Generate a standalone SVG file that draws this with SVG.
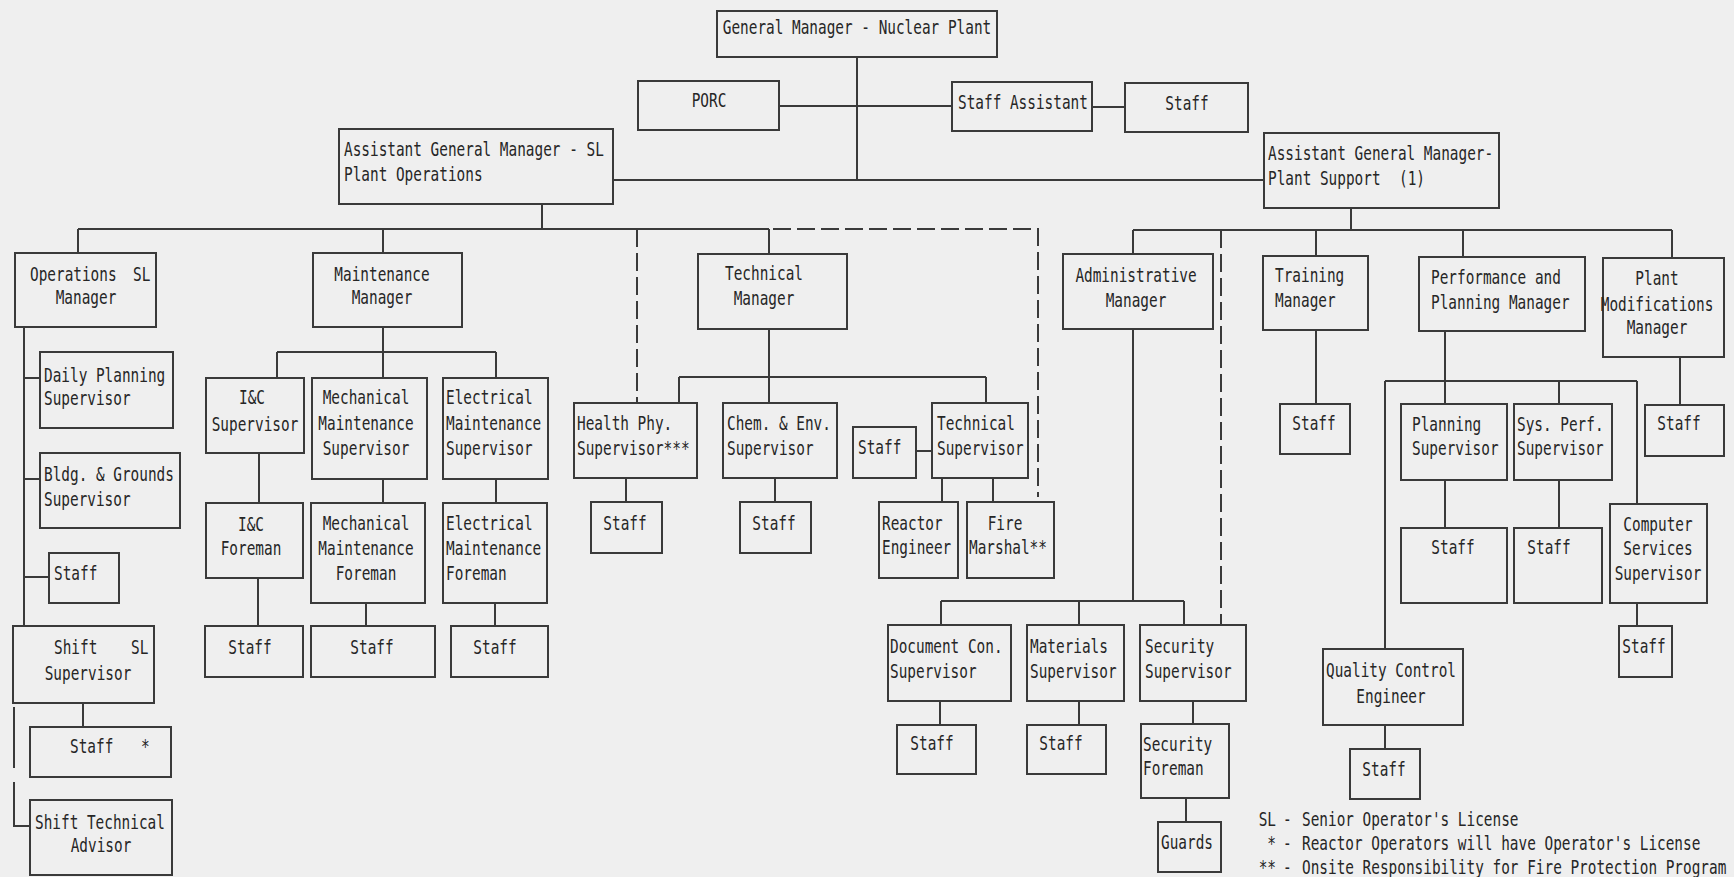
<svg xmlns="http://www.w3.org/2000/svg" width="1734" height="877" viewBox="0 0 1734 877">
<style>
.bg{fill:#efefef}
.n rect{fill:none;stroke:#3a3a3a;stroke-width:2}
#connectors path{fill:none;stroke:#3a3a3a;stroke-width:2}
#connectors path.d{stroke-dasharray:18 6}
text{font-family:"DejaVu Sans Mono","Liberation Mono",monospace;font-size:20px;fill:#262626}
.m{text-anchor:middle}
.e{text-anchor:end}
</style>
<rect class="bg" x="0" y="0" width="1734" height="877"/>
<g id="connectors">
<path d="M857 57V180M779 106H952M1092 107H1125M613 180H1264"/>
<path d="M542 204V229M78 229H769M78 229V253M383 229V253M769 229V254"/>
<path class="d" d="M773 229H1038V497"/>
<path class="d" d="M637 229V402"/>
<path d="M24 327V626M24 378H40M24 479H40M24 577H49M83 703V727"/>
<path d="M14 707V768M14 782V826H30"/>
<path d="M383 327V352M277 352H496M277 352V378M383 352V378M496 352V378"/>
<path d="M259 453V503M383 479V503M496 479V503M258 578V626M366 603V626M495 603V626"/>
<path d="M769 329V403M679 377H986M679 377V403M986 377V403M916 451H932"/>
<path d="M626 478V502M775 478V502M942 478V502M993 478V502"/>
<path d="M1351 208V230M1133 230H1672M1133 230V254M1316 230V256M1463 230V257M1672 230V258"/>
<path class="d" d="M1221 230V625"/>
<path d="M1133 329V601M941 601H1184M941 601V625M1079 601V625M1184 601V625"/>
<path d="M940 701V725M1079 701V725M1193 701V724M1186 798V822"/>
<path d="M1316 330V404M1680 357V405"/>
<path d="M1445 331V404M1385 381H1637M1385 381V649M1559 381V404M1637 381V504"/>
<path d="M1445 480V528M1559 480V528M1637 603V626M1385 725V749"/>
</g>
<g id="gm" class="n"><rect x="717" y="11" width="280" height="46"/><text class="m" transform="translate(857 34) scale(.72 1)">General Manager - Nuclear Plant</text></g>
<g id="porc" class="n"><rect x="638" y="81" width="141" height="49"/><text class="m" transform="translate(709 107) scale(.72 1)">PORC</text></g>
<g id="staff-assistant" class="n"><rect x="952" y="82" width="140" height="49"/><text transform="translate(958 109) scale(.72 1)">Staff Assistant</text></g>
<g id="staff-top" class="n"><rect x="1125" y="83" width="123" height="49"/><text class="m" transform="translate(1187 110) scale(.72 1)">Staff</text></g>
<g id="agm-ops" class="n"><rect x="339" y="129" width="274" height="75"/><text transform="translate(344 156) scale(.72 1)"><tspan x="0">Assistant General Manager - SL</tspan><tspan x="0" dy="25">Plant Operations</tspan></text></g>
<g id="agm-support" class="n"><rect x="1264" y="133" width="235" height="75"/><text transform="translate(1268 160) scale(.72 1)"><tspan x="0">Assistant General Manager-</tspan><tspan x="0" dy="25">Plant Support</tspan></text><text transform="translate(1399 185) scale(.72 1)">(1)</text></g>
<g id="ops-mgr" class="n"><rect x="15" y="253" width="141" height="74"/><text transform="translate(30 281) scale(.72 1)">Operations</text><text transform="translate(133 281) scale(.72 1)">SL</text><text class="m" transform="translate(86 304) scale(.72 1)">Manager</text></g>
<g id="daily-planning" class="n"><rect x="40" y="352" width="133" height="76"/><text transform="translate(44 382) scale(.72 1)"><tspan x="0">Daily Planning</tspan><tspan x="0" dy="23">Supervisor</tspan></text></g>
<g id="bldg-grounds" class="n"><rect x="40" y="453" width="140" height="75"/><text transform="translate(44 481) scale(.72 1)"><tspan x="0">Bldg. &amp; Grounds</tspan><tspan x="0" dy="25">Supervisor</tspan></text></g>
<g id="ops-staff" class="n"><rect x="49" y="553" width="70" height="50"/><text transform="translate(54 580) scale(.72 1)">Staff</text></g>
<g id="shift-sup" class="n"><rect x="13" y="626" width="141" height="77"/><text transform="translate(54 654) scale(.72 1)">Shift</text><text transform="translate(131 654) scale(.72 1)">SL</text><text class="m" transform="translate(88 680) scale(.72 1)">Supervisor</text></g>
<g id="shift-staff" class="n"><rect x="30" y="727" width="141" height="50"/><text transform="translate(70 753) scale(.72 1)">Staff</text><text transform="translate(141 753) scale(.72 1)">*</text></g>
<g id="sta" class="n"><rect x="30" y="800" width="142" height="75"/><text transform="translate(35 829) scale(.72 1)">Shift Technical</text><text class="m" transform="translate(101 852) scale(.72 1)">Advisor</text></g>
<g id="maint-mgr" class="n"><rect x="313" y="253" width="149" height="74"/><text class="m" transform="translate(382 281) scale(.72 1)"><tspan x="0">Maintenance</tspan><tspan x="0" dy="23">Manager</tspan></text></g>
<g id="ic-sup" class="n"><rect x="206" y="378" width="98" height="75"/><text class="m" transform="translate(252 404) scale(.72 1)">I&amp;C</text><text class="m" transform="translate(255 431) scale(.72 1)">Supervisor</text></g>
<g id="mech-sup" class="n"><rect x="312" y="378" width="115" height="101"/><text class="m" transform="translate(366 404) scale(.72 1)"><tspan x="0">Mechanical</tspan><tspan x="0" dy="26">Maintenance</tspan><tspan x="0" dy="25">Supervisor</tspan></text></g>
<g id="elec-sup" class="n"><rect x="443" y="378" width="105" height="101"/><text transform="translate(446 404) scale(.72 1)"><tspan x="0">Electrical</tspan><tspan x="0" dy="26">Maintenance</tspan><tspan x="0" dy="25">Supervisor</tspan></text></g>
<g id="ic-foreman" class="n"><rect x="206" y="503" width="97" height="75"/><text class="m" transform="translate(251 531) scale(.72 1)"><tspan x="0">I&amp;C</tspan><tspan x="0" dy="24">Foreman</tspan></text></g>
<g id="mech-foreman" class="n"><rect x="311" y="503" width="114" height="100"/><text class="m" transform="translate(366 530) scale(.72 1)"><tspan x="0">Mechanical</tspan><tspan x="0" dy="25">Maintenance</tspan><tspan x="0" dy="25">Foreman</tspan></text></g>
<g id="elec-foreman" class="n"><rect x="443" y="503" width="104" height="100"/><text transform="translate(446 530) scale(.72 1)"><tspan x="0">Electrical</tspan><tspan x="0" dy="25">Maintenance</tspan><tspan x="0" dy="25">Foreman</tspan></text></g>
<g id="ic-staff" class="n"><rect x="205" y="626" width="98" height="51"/><text class="m" transform="translate(250 654) scale(.72 1)">Staff</text></g>
<g id="mech-staff" class="n"><rect x="311" y="626" width="124" height="51"/><text class="m" transform="translate(372 654) scale(.72 1)">Staff</text></g>
<g id="elec-staff" class="n"><rect x="451" y="626" width="97" height="51"/><text class="m" transform="translate(495 654) scale(.72 1)">Staff</text></g>
<g id="tech-mgr" class="n"><rect x="698" y="254" width="149" height="75"/><text class="m" transform="translate(764 280) scale(.72 1)"><tspan x="0">Technical</tspan><tspan x="0" dy="25">Manager</tspan></text></g>
<g id="health-phy" class="n"><rect x="574" y="403" width="123" height="75"/><text transform="translate(577 430) scale(.72 1)"><tspan x="0">Health Phy.</tspan><tspan x="0" dy="25">Supervisor***</tspan></text></g>
<g id="chem-env" class="n"><rect x="723" y="403" width="114" height="75"/><text transform="translate(727 430) scale(.72 1)"><tspan x="0">Chem. &amp; Env.</tspan><tspan x="0" dy="25">Supervisor</tspan></text></g>
<g id="tech-staff" class="n"><rect x="853" y="427" width="63" height="51"/><text transform="translate(858 454) scale(.72 1)">Staff</text></g>
<g id="tech-sup" class="n"><rect x="932" y="403" width="96" height="75"/><text transform="translate(937 430) scale(.72 1)"><tspan x="0">Technical</tspan><tspan x="0" dy="25">Supervisor</tspan></text></g>
<g id="health-staff" class="n"><rect x="591" y="502" width="71" height="51"/><text class="m" transform="translate(625 530) scale(.72 1)">Staff</text></g>
<g id="chem-staff" class="n"><rect x="740" y="502" width="71" height="51"/><text class="m" transform="translate(774 530) scale(.72 1)">Staff</text></g>
<g id="reactor-eng" class="n"><rect x="879" y="502" width="79" height="76"/><text transform="translate(882 530) scale(.72 1)"><tspan x="0">Reactor</tspan><tspan x="0" dy="24">Engineer</tspan></text></g>
<g id="fire-marshal" class="n"><rect x="967" y="502" width="87" height="76"/><text class="m" transform="translate(1005 530) scale(.72 1)">Fire</text><text transform="translate(969 554) scale(.72 1)">Marshal**</text></g>
<g id="admin-mgr" class="n"><rect x="1063" y="254" width="150" height="75"/><text class="m" transform="translate(1136 282) scale(.72 1)"><tspan x="0">Administrative</tspan><tspan x="0" dy="25">Manager</tspan></text></g>
<g id="training-mgr" class="n"><rect x="1263" y="256" width="105" height="74"/><text transform="translate(1275 282) scale(.72 1)"><tspan x="0">Training</tspan><tspan x="0" dy="25">Manager</tspan></text></g>
<g id="perf-mgr" class="n"><rect x="1419" y="257" width="166" height="74"/><text transform="translate(1431 284) scale(.72 1)"><tspan x="0">Performance and</tspan><tspan x="0" dy="25">Planning Manager</tspan></text></g>
<g id="plantmod-mgr" class="n"><rect x="1603" y="258" width="121" height="99"/><text class="m" transform="translate(1657 285) scale(.72 1)"><tspan x="0">Plant</tspan><tspan x="0" dy="26">Modifications</tspan><tspan x="0" dy="23">Manager</tspan></text></g>
<g id="training-staff" class="n"><rect x="1280" y="404" width="70" height="50"/><text class="m" transform="translate(1314 430) scale(.72 1)">Staff</text></g>
<g id="plantmod-staff" class="n"><rect x="1645" y="405" width="79" height="51"/><text class="m" transform="translate(1679 430) scale(.72 1)">Staff</text></g>
<g id="planning-sup" class="n"><rect x="1401" y="404" width="106" height="76"/><text transform="translate(1412 431) scale(.72 1)"><tspan x="0">Planning</tspan><tspan x="0" dy="24">Supervisor</tspan></text></g>
<g id="sysperf-sup" class="n"><rect x="1514" y="404" width="98" height="76"/><text transform="translate(1517 431) scale(.72 1)"><tspan x="0">Sys. Perf.</tspan><tspan x="0" dy="24">Supervisor</tspan></text></g>
<g id="planning-staff" class="n"><rect x="1401" y="528" width="106" height="75"/><text class="m" transform="translate(1453 554) scale(.72 1)">Staff</text></g>
<g id="sysperf-staff" class="n"><rect x="1514" y="528" width="88" height="75"/><text class="m" transform="translate(1549 554) scale(.72 1)">Staff</text></g>
<g id="computer-sup" class="n"><rect x="1610" y="504" width="97" height="99"/><text class="m" transform="translate(1658 531) scale(.72 1)"><tspan x="0">Computer</tspan><tspan x="0" dy="24">Services</tspan><tspan x="0" dy="25">Supervisor</tspan></text></g>
<g id="computer-staff" class="n"><rect x="1619" y="626" width="53" height="51"/><text class="m" transform="translate(1644 653) scale(.72 1)">Staff</text></g>
<g id="qc-eng" class="n"><rect x="1323" y="649" width="140" height="76"/><text class="m" transform="translate(1391 677) scale(.72 1)"><tspan x="0">Quality Control</tspan><tspan x="0" dy="26">Engineer</tspan></text></g>
<g id="qc-staff" class="n"><rect x="1350" y="749" width="70" height="50"/><text class="m" transform="translate(1384 776) scale(.72 1)">Staff</text></g>
<g id="doccon-sup" class="n"><rect x="888" y="625" width="123" height="76"/><text transform="translate(890 653) scale(.72 1)"><tspan x="0">Document Con.</tspan><tspan x="0" dy="25">Supervisor</tspan></text></g>
<g id="materials-sup" class="n"><rect x="1027" y="625" width="97" height="76"/><text transform="translate(1030 653) scale(.72 1)"><tspan x="0">Materials</tspan><tspan x="0" dy="25">Supervisor</tspan></text></g>
<g id="security-sup" class="n"><rect x="1140" y="625" width="106" height="76"/><text transform="translate(1145 653) scale(.72 1)"><tspan x="0">Security</tspan><tspan x="0" dy="25">Supervisor</tspan></text></g>
<g id="doccon-staff" class="n"><rect x="897" y="725" width="79" height="49"/><text class="m" transform="translate(932 750) scale(.72 1)">Staff</text></g>
<g id="materials-staff" class="n"><rect x="1027" y="725" width="79" height="49"/><text class="m" transform="translate(1061 750) scale(.72 1)">Staff</text></g>
<g id="security-foreman" class="n"><rect x="1141" y="724" width="88" height="74"/><text transform="translate(1143 751) scale(.72 1)"><tspan x="0">Security</tspan><tspan x="0" dy="24">Foreman</tspan></text></g>
<g id="guards" class="n"><rect x="1158" y="822" width="63" height="50"/><text class="m" transform="translate(1187 849) scale(.72 1)">Guards</text></g>
<g id="legend">
<text class="e" transform="translate(1276 826) scale(.72 1)">SL</text><text transform="translate(1283 826) scale(.72 1)">-</text><text transform="translate(1302 826) scale(.72 1)">Senior Operator's License</text>
<text class="e" transform="translate(1276 850) scale(.72 1)">*</text><text transform="translate(1283 850) scale(.72 1)">-</text><text transform="translate(1302 850) scale(.72 1)">Reactor Operators will have Operator's License</text>
<text class="e" transform="translate(1276 874) scale(.72 1)">**</text><text transform="translate(1283 874) scale(.72 1)">-</text><text transform="translate(1302 874) scale(.72 1)">Onsite Responsibility for Fire Protection Program</text>
</g>
</svg>
